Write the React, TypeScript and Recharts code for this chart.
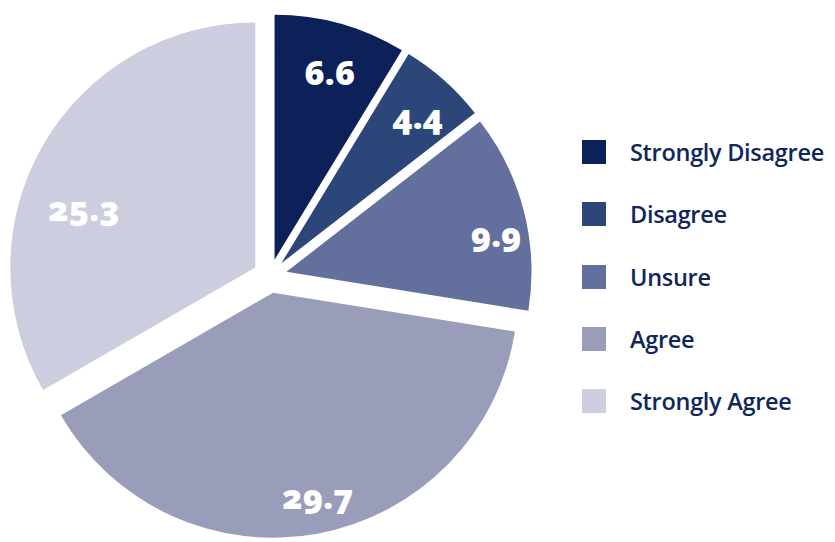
import React from "react";
import { PieChart, Pie, Sector, Legend } from "recharts";

const categories = ["Strongly Disagree", "Disagree", "Unsure", "Agree", "Strongly Agree"];
const values = [6.6, 4.4, 9.9, 29.7, 25.3];
const colors = ["#0c215a", "#2c4679", "#636f9c", "#9a9dba", "#cccee0"];

const data = categories.map((name, i) => ({ name, value: values[i] }));

const EXPLODE = 17;
const TEXT_COLOR = "#10275c";
// label placement tweaks per slice: fraction of radius, angle shift (deg, clockwise)
const labelRadius = [0.8, 0.82, 0.87, 0.85, 0.74];
const labelShift = [0.7, 1, 4, -2, -11];

// draws the exploded slice plus its white value label, using the geometry recharts hands to the label
function renderSlice(props: any) {
  const { cx, cy, outerRadius, startAngle, endAngle, index, value } = props;
  const mid = (startAngle + endAngle) / 2;
  const rad = (-mid * Math.PI) / 180;
  const ox = cx + EXPLODE * Math.cos(rad);
  const oy = cy + EXPLODE * Math.sin(rad);
  const lrad = (-(mid - labelShift[index]) * Math.PI) / 180;
  const lr = outerRadius * labelRadius[index];
  const lx = ox + lr * Math.cos(lrad);
  const ly = oy + lr * Math.sin(lrad);
  return (
    <g key={`slice-${index}`}>
      <Sector
        cx={ox}
        cy={oy}
        innerRadius={0}
        outerRadius={outerRadius}
        startAngle={startAngle}
        endAngle={endAngle}
        fill={colors[index]}
        stroke="none"
      />
      <text
        x={lx}
        y={ly}
        fill="#ffffff"
        textAnchor="middle"
        dominantBaseline="central"
        style={{
          fontFamily: "'Open Sans', sans-serif",
          fontWeight: 800,
          fontSize: 34,
          fontVariantNumeric: "oldstyle-nums",
        }}
      >
        {Number(value).toFixed(1)}
      </text>
    </g>
  );
}

function LegendList() {
  return (
    <div>
      {categories.map((c, i) => (
        <div
          key={c}
          style={{ display: "flex", alignItems: "center", height: 62.3 }}
        >
          <div style={{ width: 24, height: 24, background: colors[i], marginRight: 24, flexShrink: 0 }} />
          <span
            style={{
              fontFamily: "'Open Sans', sans-serif",
              fontSize: 23.5,
              color: TEXT_COLOR,
              fontWeight: 600,
              whiteSpace: "nowrap",
              letterSpacing: -0.3,
            }}
          >
            {c}
          </span>
        </div>
      ))}
    </div>
  );
}

export default function App() {
  return (
    <div style={{ position: "fixed", left: 0, top: 0, width: 835, height: 542, background: "#fff" }}>
      <PieChart width={835} height={542} margin={{ top: 0, right: 0, bottom: 0, left: 0 }}>
        <Pie
          data={data}
          dataKey="value"
          nameKey="name"
          cx={270}
          cy={276}
          outerRadius={245}
          startAngle={90}
          endAngle={-270}
          fill="transparent"
          stroke="none"
          label={renderSlice}
          labelLine={false}
          isAnimationActive={false}
        />
        <Legend
          layout="vertical"
          content={() => <LegendList />}
          wrapperStyle={{ left: 582, top: 121, width: 253 }}
        />
      </PieChart>
    </div>
  );
}
